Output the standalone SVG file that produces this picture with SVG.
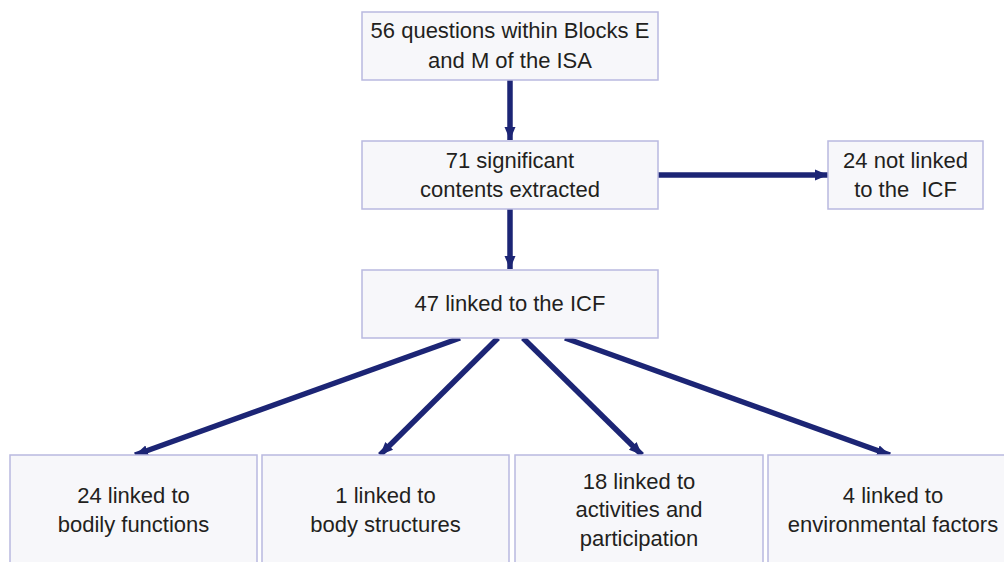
<svg xmlns="http://www.w3.org/2000/svg" width="1004" height="562" viewBox="0 0 1004 562">
<style>
.box{fill:#f7f7fa;stroke:#b9b9e0;stroke-width:1.5}
.t{font-family:"Liberation Sans",Arial,sans-serif;font-size:22px;fill:#231f20;text-anchor:middle}
.c{stroke:#1c2575;stroke-width:5.5;fill:none;marker-end:url(#ah)}
</style>
<defs>
<marker id="ah" markerUnits="userSpaceOnUse" markerWidth="14" markerHeight="14" viewBox="0 0 14 14" refX="13" refY="7" orient="auto">
<path d="M0,1.5 L13,7 L0,12.5 Z" fill="#1c2575"/>
</marker>
</defs>
<rect width="1004" height="562" fill="#ffffff"/>
<g id="connectors">
<line class="c" x1="510" y1="80" x2="510" y2="140"/>
<line class="c" x1="658" y1="175" x2="828" y2="175"/>
<line class="c" x1="510" y1="209" x2="510" y2="269"/>
<line class="c" x1="460" y1="338" x2="135" y2="455"/>
<line class="c" x1="498" y1="338" x2="380" y2="455"/>
<line class="c" x1="523" y1="338" x2="642" y2="455"/>
<line class="c" x1="565" y1="338" x2="890" y2="455"/>
</g>
<g id="n1">
<rect class="box" x="362" y="12" width="296" height="68"/>
<text class="t" x="510" y="38">56 questions within Blocks E</text>
<text class="t" x="510" y="68">and M of the ISA</text>
</g>
<g id="n2">
<rect class="box" x="362" y="141" width="296" height="68"/>
<text class="t" x="510" y="168">71 significant</text>
<text class="t" x="510" y="197">contents extracted</text>
</g>
<g id="n3">
<rect class="box" x="828" y="141" width="155" height="68"/>
<text class="t" x="905.500" y="168">24 not linked</text>
<text class="t" x="905.500" y="197" xml:space="preserve">to the  ICF</text>
</g>
<g id="n4">
<rect class="box" x="362" y="270" width="296" height="68"/>
<text class="t" x="510" y="311">47 linked to the ICF</text>
</g>
<g id="n5">
<rect class="box" x="10" y="455" width="247" height="115"/>
<text class="t" x="133.500" y="503">24 linked to</text>
<text class="t" x="133.500" y="532">bodily functions</text>
</g>
<g id="n6">
<rect class="box" x="262" y="455" width="247" height="115"/>
<text class="t" x="385.500" y="503">1 linked to</text>
<text class="t" x="385.500" y="532">body structures</text>
</g>
<g id="n7">
<rect class="box" x="515" y="455" width="248" height="115"/>
<text class="t" x="639" y="489">18 linked to</text>
<text class="t" x="639" y="517">activities and</text>
<text class="t" x="639" y="546">participation</text>
</g>
<g id="n8">
<rect class="box" x="768" y="455" width="249" height="115"/>
<text class="t" x="893" y="503">4 linked to</text>
<text class="t" x="893" y="532">environmental factors</text>
</g>
</svg>
